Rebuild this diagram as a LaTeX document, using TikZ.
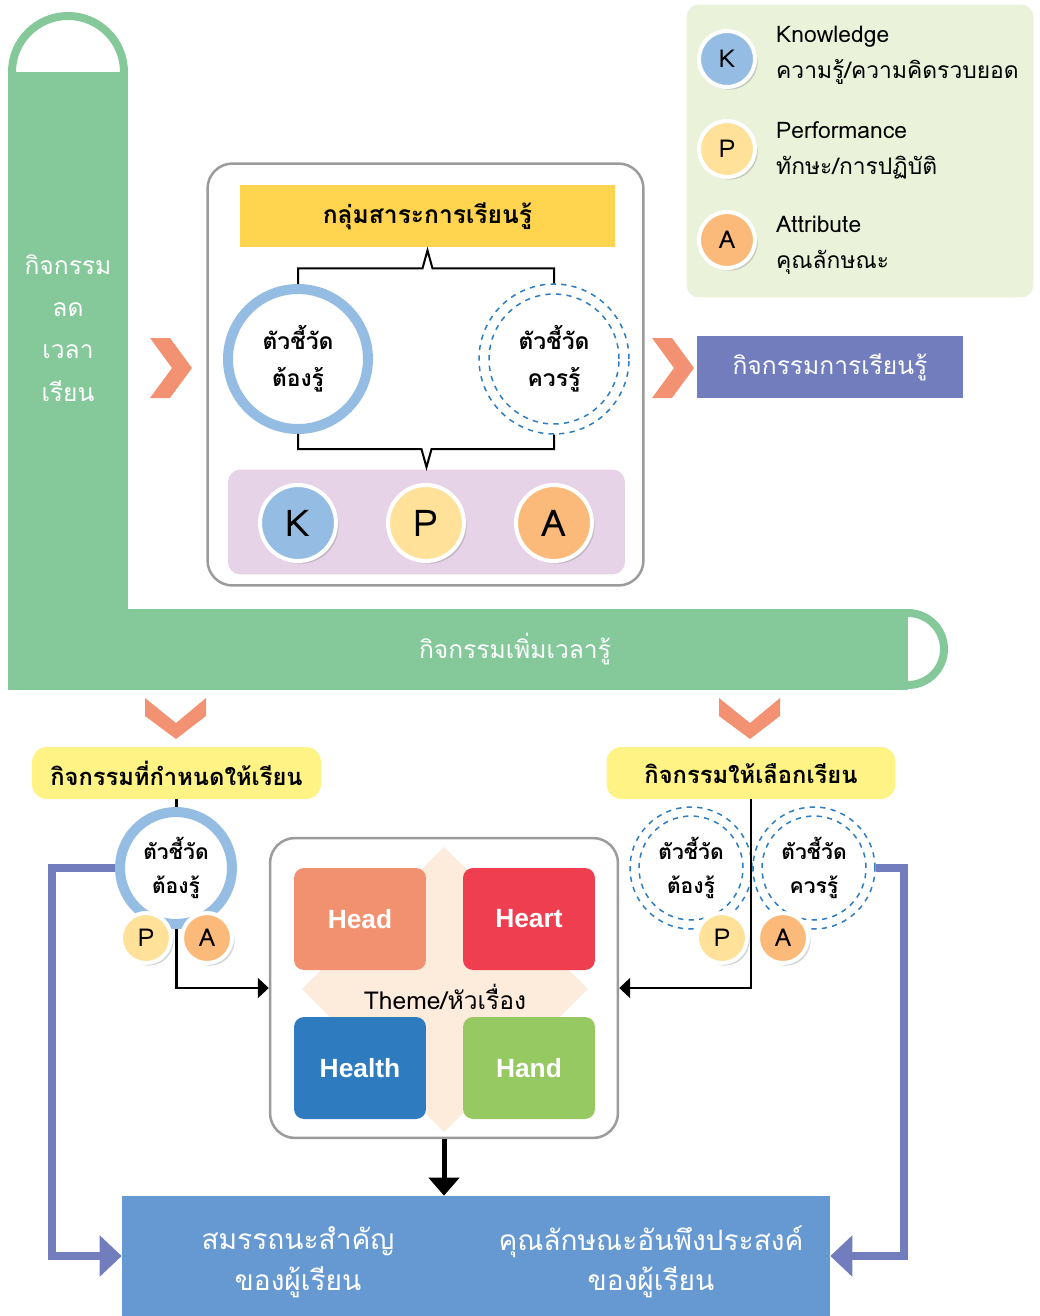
\documentclass[tikz,border=0pt]{standalone}
\usepackage{fontspec}
\setmainfont{Loma}[Script=Thai]
\newfontfamily\headfont{Liberation Sans}
\usetikzlibrary{calc,positioning,shadows,arrows.meta,backgrounds}
\definecolor{barGreen}{HTML}{85C99A}
\definecolor{chevC}{HTML}{F39273}
\definecolor{legendBg}{HTML}{EAF2DA}
\definecolor{kBlue}{HTML}{95BDE3}
\definecolor{pYellow}{HTML}{FFE199}
\definecolor{aOrange}{HTML}{FBBA7A}
\definecolor{gold}{HTML}{FFD44F}
\definecolor{paleLilac}{HTML}{E7D3E7}
\definecolor{lilac}{HTML}{727DBE}
\definecolor{pill}{HTML}{FFF385}
\definecolor{dashBlue}{HTML}{2E7DC2}
\definecolor{headC}{HTML}{F2916F}
\definecolor{heartC}{HTML}{EE3E4F}
\definecolor{healthC}{HTML}{2E7BBF}
\definecolor{handC}{HTML}{97C962}
\definecolor{peach}{HTML}{FDEBDC}
\definecolor{goalBlue}{HTML}{6699D1}
\definecolor{panelGray}{HTML}{9B9B9B}

\begin{document}
\begin{tikzpicture}[x=0.02cm,y=-0.02cm,font=\fontsize{14}{18}\selectfont]

\tikzset{letternode/.style={shape=circle,draw=white,line width=0.08cm,inner sep=0pt,drop shadow={shadow xshift=1.5pt,shadow yshift=-1.5pt,opacity=.35}},
bigletter/.style={letternode,minimum size=1.52cm,font=\fontsize{21}{24}\selectfont},
smallletter/.style={letternode,minimum size=1.0cm,font=\fontsize{14}{16}\selectfont},
mustring/.style={shape=circle,draw=kBlue,fill=white,inner sep=0pt,align=center},
shouldring/.style={shape=circle,draw=dashBlue,dashed,line width=0.03cm,inner sep=0pt,align=center},
panel/.style={draw=panelGray,line width=0.05cm,fill=white,rounded corners=0.5cm},
pilllabel/.style={fill=pill,rounded corners=0.3cm,minimum width=5.78cm,minimum height=1.04cm,font=\fontsize{13.5}{18}\selectfont\bfseries},
legtext/.style={align=left,anchor=west,font=\fontsize{13}{20.5}\selectfont},
hbox/.style={rounded corners=0.2cm,minimum width=2.64cm,minimum height=2.04cm,text=white,font=\headfont\fontsize{15}{18}\selectfont\bfseries},
blackconn/.style={line width=0.045cm,-{Triangle[length=0.22cm,width=0.4cm]}},
lilacconn/.style={draw=lilac,line width=0.16cm,-{Triangle[length=0.44cm,width=0.8cm]}},
whitetext/.style={text=white}}

\useasboundingbox (0,0) rectangle (1040,1316);

% Green bars
\fill[barGreen] (8,72) rectangle (128,690);
\fill[barGreen] (128,609) rectangle (908,690);
\draw[barGreen,line width=0.16cm] (12,72) arc (180:360:56);
\draw[barGreen,line width=0.16cm] (908,613) arc (270:450:36);
\node[whitetext,align=center,font=\fontsize{14}{24}\selectfont] (cutTxt) at (68,328) {กิจกรรม\\ลด\\เวลา\\เรียน};
\node[whitetext] (addTxt) at (515,649) {กิจกรรมเพิ่มเวลารู้};

% Chevrons
\foreach \x in {150,652} \fill[chevC] (\x,338) -- (\x+20,338) -- (\x+42,368) -- (\x+20,398) -- (\x,398) -- (\x+22,368) -- cycle;
\foreach \x in {145,719} \fill[chevC] (\x,698) -- (\x+31,723) -- (\x+61,698) -- (\x+61,716) -- (\x+31,739) -- (\x,716) -- cycle;

% Legend
\node[fill=legendBg,rounded corners=0.25cm,minimum width=6.94cm,minimum height=5.86cm] (legend) at (860,151) {};
\foreach \l/\c/\y in {K/kBlue/59,P/pYellow/149,A/aOrange/240} \node[letternode,fill=\c,minimum size=1.12cm] (leg\l) at (727,\y) {\l};
\node[legtext] (legTxtK) at (770,55) {Knowledge\\ความรู้/ความคิดรวบยอด};
\node[legtext] (legTxtP) at (770,150) {Performance\\ทักษะ/การปฏิบัติ};
\node[legtext] (legTxtA) at (770,245) {Attribute\\คุณลักษณะ};

% Learning area panel
\node[panel,minimum width=8.72cm,minimum height=8.44cm] (mainBox) at (425.5,374.5) {};
\node[fill=gold,minimum width=7.52cm,minimum height=1.24cm,font=\fontsize{14}{18}\selectfont\bfseries] (banner) at (427.5,216) {กลุ่มสาระการเรียนรู้};
\node[mustring,line width=0.2cm,minimum size=2.8cm,font=\fontsize{13}{21}\selectfont\bfseries] (ringMust) at (298,359) {ตัวชี้วัด\\ต้องรู้};
\node[shouldring,minimum size=3.0cm,font=\fontsize{13}{21}\selectfont\bfseries] (ringShould) at (554,359) {ตัวชี้วัด\\ควรรู้};
\draw[shouldring] (ringShould) circle (1.3cm);
\node[fill=paleLilac,rounded corners=0.25cm,minimum width=7.94cm,minimum height=2.1cm] (kpaBox) at (426.5,522) {};
\node[bigletter,fill=kBlue] (bigK) at (298,523) {K};
\node[bigletter,fill=pYellow] (bigP) at (426,523) {P};
\node[bigletter,fill=aOrange] (bigA) at (554,523) {A};

% Brackets
\draw[line width=0.04cm] (ringMust.north) |- ($(banner.south)+(-5,21)$) -- ($(banner.south)+(0,3)$) -- ($(banner.south)+(5,21)$) -| (ringShould.north);
\draw[line width=0.04cm] (ringMust.south) |- ($(kpaBox.north)+(-5,-20)$) -- ($(kpaBox.north)+(0,-2)$) -- ($(kpaBox.north)+(5,-20)$) -| (ringShould.south);

% Learning activities
\node[fill=lilac,whitetext,minimum width=5.32cm,minimum height=1.24cm] (learnAct) at (830,367) {กิจกรรมการเรียนรู้};

% Required and optional activities
\node[pilllabel] (reqLbl) at (176.5,773) {กิจกรรมที่กำหนดให้เรียน};
\node[pilllabel] (optLbl) at (751,773) {กิจกรรมให้เลือกเรียน};

% Theme panel
\node[panel,minimum width=6.96cm,minimum height=6.0cm] (theme) at (444,988) {};
\fill[peach] (444,847) -- (588,989) -- (444,1132) -- (302,989) -- cycle;
\foreach \n/\c/\x/\y in {Head/headC/360/919,Heart/heartC/529/919,Health/healthC/360/1068,Hand/handC/529/1068} \node[hbox,fill=\c] (h\n) at (\x,\y) {\n};
\node (themeTxt) at (445,997) {Theme/หัวเรื่อง};

% Goals
\node[fill=goalBlue,minimum width=14.16cm,minimum height=2.4cm] (goal) at (476,1256) {};
\node[whitetext,align=center,font=\fontsize{16}{23}\selectfont] (goalL) at (298,1262) {สมรรถนะสำคัญ\\ของผู้เรียน};
\node[whitetext,align=center,font=\fontsize{16}{23}\selectfont] (goalR) at (651,1262) {คุณลักษณะอันพึงประสงค์\\ของผู้เรียน};

% Rings below the labels
\node[mustring,line width=0.2cm,minimum size=2.24cm,font=\fontsize{12}{19}\selectfont\bfseries] (reqRing) at (176,868) {ตัวชี้วัด\\ต้องรู้};
\node[smallletter,fill=pYellow] (reqP) at (146,938) {P};
\node[smallletter,fill=aOrange] (reqA) at (207,938) {A};
\node[shouldring,minimum size=2.44cm,font=\fontsize{12}{19}\selectfont\bfseries] (optRingA) at (691,868) {ตัวชี้วัด\\ต้องรู้};
\node[shouldring,minimum size=2.44cm,font=\fontsize{12}{19}\selectfont\bfseries] (optRingB) at (814,868) {ตัวชี้วัด\\ควรรู้};
\foreach \n in {optRingA,optRingB} \draw[shouldring] (\n) circle (1.04cm);

% Connectors
\coordinate (lCorner) at (52,868);
\coordinate (rCorner) at (904,868);
\begin{scope}[on background layer]
\draw[blackconn] (reqLbl.south) |- (theme.west);
\draw[lilacconn] (reqRing.west) -- (lCorner) |- (goal.west);
\draw[lilacconn] (optRingB.east) -- (rCorner) |- (goal.east);
\end{scope}
\draw[blackconn] (optLbl.south) |- (theme.east);
\node[smallletter,fill=pYellow] (optP) at (722,938) {P};
\node[smallletter,fill=aOrange] (optA) at (783,938) {A};
\draw[line width=0.1cm,-{Triangle[length=0.36cm,width=0.6cm]}] (theme.south) -- (theme.south |- goal.north);

\end{tikzpicture}
\end{document}
